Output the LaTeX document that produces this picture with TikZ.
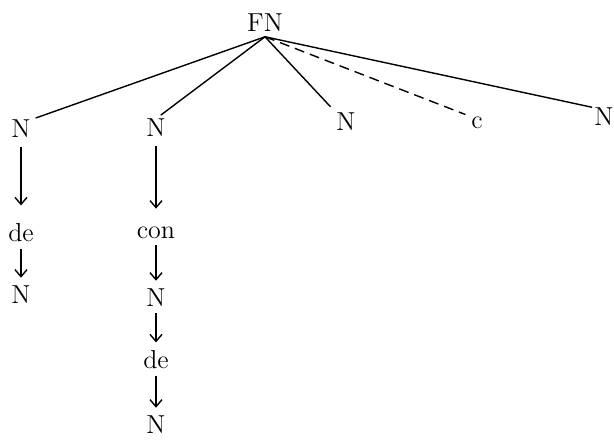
\documentclass[tikz,border=0pt]{standalone}
\usepackage{tikz}
\usetikzlibrary{arrows.meta}

\begin{document}
\begin{tikzpicture}
[x = 0.5pt, y = -0.5pt]
\tikzset{
	word node/.style = {inner sep = 0, font = \fontsize{13}{15}\selectfont},
	top node/.style = {word node, inner sep = 2.5pt},
	branch/.style = {line width = 0.7pt},
	down arrow/.style = {line width = 0.7pt, -{Straight Barb[length = 3.5pt, width = 6pt]}, shorten < = 3pt, shorten > = 4pt},
	long arrow/.style = {down arrow, shorten < = 4.5pt, shorten > = 9pt},
}
\useasboundingbox (0,0) rectangle (614,448);

\node(0)[top node] at (265,22.5){FN};
\node(1)[word node] at (21,129){N};
\node(2)[word node] at (156,128){N};
\node(3)[word node] at (346,122){N};
\node(4)[word node] at (477,123){c};
\node(5)[word node] at (604,117){N};

\node(1-1)[word node] at (21,233){de};
\node(1-2)[word node] at (21,295){N};

\node(2-1)[word node] at (156,233){con};
\node(2-2)[word node] at (156,298){N};
\node(2-3)[word node] at (156,360){de};
\node(2-4)[word node] at (156,425){N};

\draw [branch, shorten > = 2.5pt] (0.south) -- (1.north east);
\draw [branch, shorten > = 3pt] (0.south) -- (2.north);
\draw [branch, shorten > = 4pt] (0.south) -- (3.north west);
\draw [branch, dashed, dash pattern = on 5pt off 3pt, shorten > = 3pt] (0.south) -- (4.north west);
\draw [branch, shorten > = 1pt] (0.south) -- (5.north west);

\draw [long arrow] (1) -- (1-1);
\draw [down arrow] (1-1) -- (1-2);

\draw [long arrow] (2) -- (2-1);
\draw [down arrow] (2-1) -- (2-2);
\draw [down arrow] (2-2) -- (2-3);
\draw [down arrow] (2-3) -- (2-4);

\end{tikzpicture}
\end{document}
